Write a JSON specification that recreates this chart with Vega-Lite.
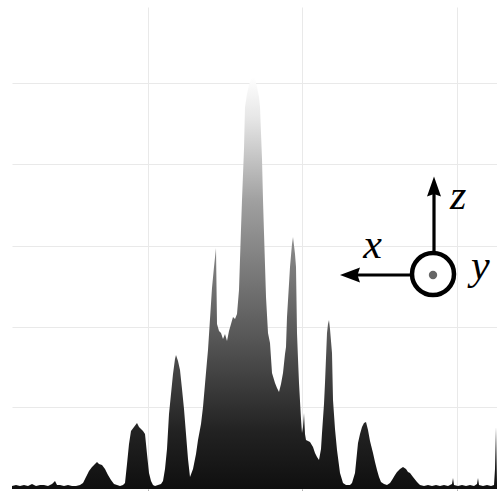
{
  "$schema": "https://vega.github.io/schema/vega-lite/v6.json",
  "width": 485,
  "height": 482,
  "autosize": {"type": "none"},
  "padding": {"left": 12, "top": 7, "right": 0, "bottom": 2},
  "background": "white",
  "config": {"view": {"stroke": null}},
  "encoding": {
    "x": {"field": "x", "type": "quantitative", "scale": {"domain": [12, 497], "nice": false, "zero": false},
      "axis": {"title": null, "values": [148, 302, 457], "labels": false, "domain": false, "ticks": true, "tickSize": 3, "tickColor": "#b0b0b0", "grid": true, "gridColor": "#e9e9e9", "gridWidth": 1}},
    "y": {"field": "y", "type": "quantitative", "scale": {"domain": [0, 482], "nice": false, "zero": false},
      "axis": {"title": null, "values": [82, 162, 243, 325, 406], "labels": false, "domain": false, "ticks": false, "grid": true, "gridColor": "#e9e9e9", "gridWidth": 1}}
  },
  "layer": [
    {
      "data": {"values": [
        {"x":12,"y":3},{"x":16,"y":4},{"x":20,"y":3},{"x":24,"y":4},{"x":28,"y":3},{"x":32,"y":5},{"x":36,"y":3},{"x":40,"y":4},{"x":44,"y":4},{"x":48,"y":3},{"x":52,"y":5},{"x":55,"y":8},{"x":57,"y":4},{"x":60,"y":4},{"x":64,"y":3},{"x":68,"y":4},{"x":72,"y":3},{"x":76,"y":3},{"x":80,"y":4},
        {"x":83,"y":6},{"x":86,"y":12},{"x":89,"y":18},{"x":92,"y":22},{"x":95,"y":25},{"x":97,"y":27},{"x":99,"y":25},{"x":102,"y":24},{"x":105,"y":20},{"x":108,"y":14},{"x":111,"y":9},{"x":114,"y":5},{"x":117,"y":4},{"x":120,"y":3},{"x":123,"y":4},
        {"x":125,"y":6},{"x":127,"y":25},{"x":129,"y":45},{"x":131,"y":58},{"x":134,"y":62},{"x":137,"y":66},{"x":139,"y":62},{"x":141,"y":60},{"x":143,"y":58},{"x":145,"y":55},{"x":147,"y":35},{"x":149,"y":16},{"x":151,"y":8},{"x":153,"y":4},{"x":155,"y":3},{"x":158,"y":4},{"x":161,"y":5},
        {"x":163,"y":8},{"x":165,"y":20},{"x":167,"y":40},{"x":169,"y":75},{"x":171,"y":95},{"x":173,"y":115},{"x":175,"y":130},{"x":176,"y":134},{"x":178,"y":128},{"x":180,"y":119},{"x":182,"y":100},{"x":184,"y":80},{"x":186,"y":55},{"x":188,"y":30},{"x":190,"y":12},
        {"x":193,"y":20},{"x":196,"y":35},{"x":198,"y":49},{"x":201,"y":65},{"x":203,"y":82},{"x":205,"y":105},{"x":207,"y":128},{"x":208,"y":139},{"x":210,"y":170},{"x":212,"y":201},{"x":214,"y":222},{"x":216,"y":241},{"x":217,"y":165},{"x":219,"y":158},{"x":221,"y":156},{"x":223,"y":150},{"x":225,"y":155},{"x":227,"y":148},{"x":229,"y":158},{"x":231,"y":165},{"x":233,"y":172},{"x":235,"y":170},{"x":237,"y":175},{"x":239,"y":199},{"x":241,"y":260},
        {"x":242,"y":289},{"x":244,"y":340},{"x":245,"y":382},{"x":247,"y":395},{"x":249,"y":404},{"x":251,"y":410},{"x":253,"y":412},{"x":255,"y":410},{"x":257,"y":402},{"x":259,"y":392},{"x":260,"y":382},{"x":262,"y":330},{"x":263,"y":289},{"x":264,"y":256},{"x":266,"y":192},{"x":268,"y":156},{"x":270,"y":146},{"x":272,"y":116},{"x":275,"y":106},{"x":277,"y":101},{"x":279,"y":97},{"x":281,"y":105},{"x":283,"y":116},{"x":285,"y":135},{"x":286,"y":142},{"x":287,"y":172},{"x":289,"y":205},{"x":290,"y":222},{"x":292,"y":245},{"x":293,"y":252},{"x":295,"y":235},{"x":296,"y":222},{"x":297,"y":156},{"x":298,"y":130},{"x":299,"y":106},{"x":301,"y":70},{"x":302,"y":56},{"x":303,"y":62},{"x":304,"y":76},{"x":305,"y":55},{"x":306,"y":49},{"x":308,"y":48},{"x":310,"y":47},{"x":313,"y":42},{"x":315,"y":36},{"x":317,"y":32},{"x":319,"y":29},
        {"x":321,"y":40},{"x":322,"y":56},{"x":324,"y":85},{"x":325,"y":106},{"x":327,"y":156},{"x":328,"y":165},{"x":329,"y":169},{"x":330,"y":160},{"x":332,"y":136},{"x":333,"y":89},{"x":335,"y":60},{"x":337,"y":39},{"x":340,"y":16},{"x":343,"y":6},{"x":346,"y":4},{"x":350,"y":4},
        {"x":352,"y":6},{"x":355,"y":16},{"x":358,"y":46},{"x":360,"y":55},{"x":362,"y":62},{"x":364,"y":66},{"x":366,"y":67},{"x":368,"y":59},{"x":370,"y":48},{"x":373,"y":36},{"x":375,"y":27},{"x":377,"y":19},{"x":379,"y":12},{"x":381,"y":7},{"x":384,"y":5},{"x":387,"y":4},
        {"x":390,"y":6},{"x":392,"y":9},{"x":395,"y":14},{"x":397,"y":17},{"x":400,"y":20},{"x":403,"y":22},{"x":406,"y":20},{"x":408,"y":17},{"x":410,"y":16},{"x":413,"y":12},{"x":417,"y":7},{"x":420,"y":4},
        {"x":424,"y":3},{"x":428,"y":4},{"x":432,"y":3},{"x":436,"y":4},{"x":440,"y":3},{"x":444,"y":4},{"x":448,"y":3},{"x":452,"y":5},{"x":453,"y":11},{"x":454,"y":4},{"x":458,"y":3},{"x":462,"y":4},{"x":466,"y":3},{"x":470,"y":4},{"x":474,"y":3},{"x":477,"y":5},{"x":478,"y":11},{"x":479,"y":4},{"x":483,"y":3},{"x":487,"y":4},{"x":491,"y":3},{"x":494,"y":4},{"x":495,"y":20},{"x":496,"y":62},{"x":497,"y":5}
      ]},
      "mark": {"type": "area", "interpolate": "linear",
        "color": {"gradient": "linear", "x1": 0, "y1": 1, "x2": 0, "y2": 0,
          "stops": [
            {"offset": 0, "color": "#0f0f0f"},
            {"offset": 0.14, "color": "#222222"},
            {"offset": 0.36, "color": "#555555"},
            {"offset": 0.7, "color": "#a0a0a0"},
            {"offset": 0.9, "color": "#e6e6e6"},
            {"offset": 1, "color": "#ffffff"}
          ]}}
    },
    {
      "data": {"values": [
        {"x": 434, "y": 238, "x2": 434, "y2": 298},
        {"x": 411, "y": 214, "x2": 353, "y2": 214}
      ]},
      "mark": {"type": "rule", "color": "black", "strokeWidth": 3.2},
      "encoding": {"x2": {"field": "x2"}, "y2": {"field": "y2"}}
    },
    {
      "data": {"values": [{"x": 434, "y": 302.5}]},
      "mark": {"type": "point", "filled": true, "color": "black", "opacity": 1, "size": 400, "shape": "M0,-1L-0.7,1L0,0.75L0.7,1Z"}
    },
    {
      "data": {"values": [{"x": 350, "y": 214}]},
      "mark": {"type": "point", "filled": true, "color": "black", "opacity": 1, "size": 400, "shape": "M-1,0L1,-0.75L0.75,0L1,0.75Z"}
    },
    {
      "data": {"values": [{"x": 433, "y": 215}]},
      "mark": {"type": "point", "filled": false, "stroke": "black", "fill": "white", "fillOpacity": 1, "strokeWidth": 4.5, "opacity": 1, "size": 1764, "shape": "circle"}
    },
    {
      "data": {"values": [{"x": 433, "y": 214}]},
      "mark": {"type": "point", "filled": true, "color": "#666666", "opacity": 1, "size": 70, "shape": "circle"}
    },
    {
      "data": {"values": [
        {"x": 450, "y": 280, "label": "z"},
        {"x": 471, "y": 210, "label": "y"}
      ]},
      "mark": {"type": "text", "font": "'Liberation Serif', 'Times New Roman', serif", "fontStyle": "italic", "fontSize": 42, "align": "left", "baseline": "alphabetic", "color": "black"},
      "encoding": {"text": {"field": "label"}}
    },
    {
      "data": {"values": [{"x": 372.5, "y": 231, "label": "x"}]},
      "mark": {"type": "text", "font": "'Liberation Serif', 'Times New Roman', serif", "fontStyle": "italic", "fontSize": 42, "align": "center", "baseline": "alphabetic", "color": "black"},
      "encoding": {"text": {"field": "label"}}
    }
  ]
}
